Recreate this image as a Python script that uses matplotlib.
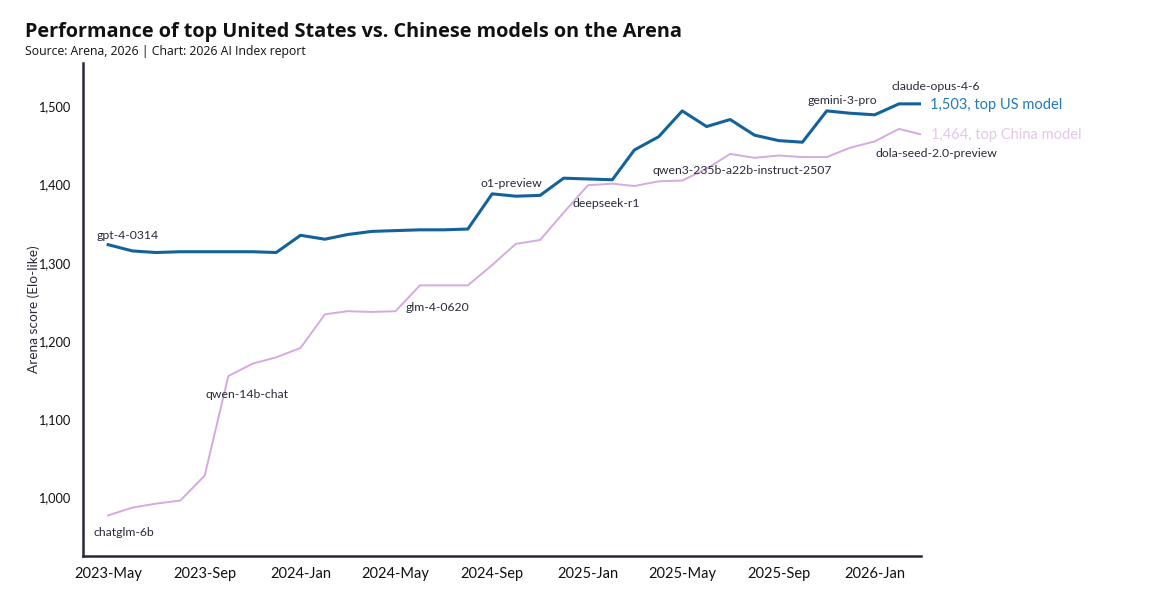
import pandas as pd
import matplotlib
matplotlib.use("Agg")
import matplotlib.pyplot as plt
import matplotlib.dates as mdates

# monthly top scores
months = pd.date_range("2023-05-01", "2026-03-01", freq="MS")

us_scores = [1323, 1315, 1313, 1314, 1314, 1314, 1314, 1313,
             1335, 1330, 1336, 1340, 1341, 1342, 1342, 1343,
             1388, 1385, 1386, 1408,
             1407, 1406, 1444, 1461, 1494, 1474, 1483, 1463,
             1456, 1454, 1494, 1491,
             1489, 1503, 1503]

china_scores = [977, 987, 992, 996, 1028, 1155, 1171, 1179,
                1191, 1234, 1238, 1237, 1238, 1271, 1271, 1271,
                1297, 1324, 1329, 1364,
                1399, 1401, 1398, 1404, 1405, 1420, 1439, 1434,
                1437, 1435, 1435, 1447,
                1455, 1471, 1464]

# (series, month, model name)
model_labels = [
    ("us", "2023-05", "gpt-4-0314"),
    ("us", "2024-09", "o1-preview"),
    ("us", "2025-11", "gemini-3-pro"),
    ("us", "2026-02", "claude-opus-4-6"),
    ("cn", "2023-05", "chatglm-6b"),
    ("cn", "2023-10", "qwen-14b-chat"),
    ("cn", "2024-05", "glm-4-0620"),
    ("cn", "2025-01", "deepseek-r1"),
    ("cn", "2025-07", "qwen3-235b-a22b-instruct-2507"),
    ("cn", "2026-02", "dola-seed-2.0-preview"),
]
# pixel offsets of each label from its point
label_offsets = [(-12, 9), (-12, 10), (-19, 10), (-7, 17),
                 (-15, -17), (-23, -18), (10, 4), (-15, -18),
                 (-78, -17), (-23, -25)]

US_COLOR = "#13639a"
CN_COLOR = "#d6a9e0"
TEXT = "#2a2a3a"

plt.rcParams['font.family'] = ['Lato', 'DejaVu Sans']

fig = plt.figure(figsize=(11.56, 5.96), dpi=100)
ax = fig.add_axes([0.0718, 0.067, 0.7249, 0.827])

ax.plot(months, us_scores, color=US_COLOR, lw=2.2, solid_joinstyle="round")
ax.plot(months, china_scores, color=CN_COLOR, lw=1.4, solid_joinstyle="round")

series = {"us": us_scores, "cn": china_scores}
for (s, m, name), (dx, dy) in zip(model_labels, label_offsets):
    i = list(months.strftime("%Y-%m")).index(m)
    ax.annotate(name, (months[i], series[s][i]), xytext=(dx, dy),
                textcoords="offset pixels", ha="left", va="center",
                fontsize=8.8, color=TEXT)

ax.annotate(f"{us_scores[-1]:,}, top US model", (months[-1], us_scores[-1]),
            xytext=(9, -1), textcoords="offset pixels", ha="left", va="center",
            fontsize=10.5, color="#2479b3", annotation_clip=False)
ax.annotate(f"{china_scores[-1]:,}, top China model", (months[-1], china_scores[-1]),
            xytext=(10, -1), textcoords="offset pixels", ha="left", va="center",
            fontsize=10.5, color="#e5c6ea", annotation_clip=False)

ax.set_xlim(pd.Timestamp("2023-03-30"), months[-1])
ax.set_ylim(925, 1555)
ax.set_yticks([1000, 1100, 1200, 1300, 1400, 1500])
ax.yaxis.set_major_formatter(matplotlib.ticker.FuncFormatter(lambda v, p: f"{int(v):,}"))
ax.xaxis.set_major_locator(mdates.MonthLocator(bymonth=[1, 5, 9]))
ax.xaxis.set_major_formatter(mdates.DateFormatter("%Y-%b"))
ax.tick_params(axis="both", length=0, colors="#111111")
ax.tick_params(axis="x", labelsize=10.5, pad=8)
ax.tick_params(axis="y", labelsize=9.2, pad=9)

for side in ["top", "right"]:
    ax.spines[side].set_visible(False)
for side in ["left", "bottom"]:
    ax.spines[side].set_color("#26263c")
    ax.spines[side].set_linewidth(1.8)

ax.set_ylabel("Arena score (Elo-like)", fontsize=9.8, color=TEXT, labelpad=-1)

fig.text(0.0216, 0.946, "Performance of top United States vs. Chinese models on the Arena",
         fontsize=14.3, fontweight="bold", color="#111111", va="center",
         family=["Open Sans", "DejaVu Sans"])
fig.text(0.0216, 0.913, "Source: Arena, 2026 | Chart: 2026 AI Index report",
         fontsize=8.8, color="#111111", va="center",
         family=["Open Sans", "DejaVu Sans"])

fig.savefig("out.png", dpi=100, facecolor="white")
